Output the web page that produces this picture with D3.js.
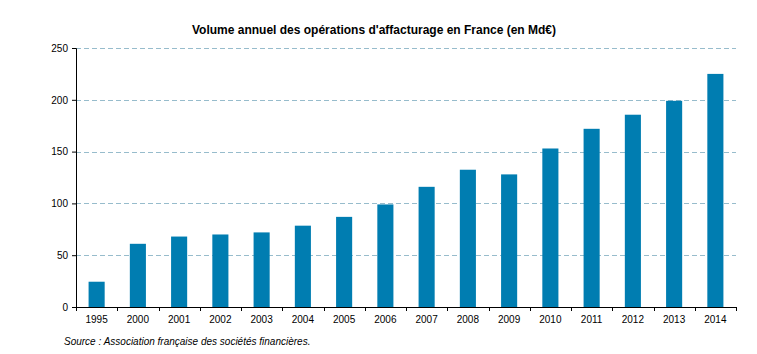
<!DOCTYPE html>
<html lang="fr">
<head>
  <meta charset="UTF-8">
  <title>Volume annuel des opérations d'affacturage en France</title>
  <script src="https://d3js.org/d3.v7.min.js"></script>
  <style>
    body {
      margin: 0;
      background: #fff;
      font-family: "Liberation Sans", Arial, sans-serif;
    }
    #chart { display: block; }
  </style>
</head>
<body>
  <svg id="chart" width="757" height="354"></svg>

  <script>
    const years = ["1995", "2000", "2001", "2002", "2003", "2004", "2005", "2006",
                   "2007", "2008", "2009", "2010", "2011", "2012", "2013", "2014"];
    const volumes = [24.4, 61, 68, 70, 72, 78.5, 87, 99,
                     116, 132.5, 128, 153, 172, 185.6, 199, 225];
    const yTicks = [0, 50, 100, 150, 200, 250];

    const margin = { top: 48, right: 21, bottom: 47, left: 76 };
    const width = 757 - margin.left - margin.right;
    const height = 354 - margin.top - margin.bottom;

    const svg = d3.select("#chart");
    const g = svg.append("g")
      .attr("transform", `translate(${margin.left},${margin.top})`);

    const x = d3.scaleBand()
      .domain(years)
      .range([0, width])
      .paddingInner(0.61)
      .paddingOuter(0.305);

    const y = d3.scaleLinear()
      .domain([0, 250])
      .range([height, 0]);

    // Gridlines
    g.append("g")
      .selectAll("line")
      .data(yTicks.filter(d => d > 0))
      .enter()
      .append("line")
      .attr("x1", 0)
      .attr("x2", width)
      .attr("y1", d => Math.round(y(d)) + 0.5)
      .attr("y2", d => Math.round(y(d)) + 0.5)
      .attr("stroke", "#97bccc")
      .attr("stroke-width", 1)
      .attr("stroke-dasharray", "5,3");

    // Bars
    g.selectAll(".bar")
      .data(years)
      .enter()
      .append("rect")
      .attr("class", "bar")
      .attr("x", d => x(d))
      .attr("width", x.bandwidth())
      .attr("y", (d, i) => y(volumes[i]))
      .attr("height", (d, i) => height - y(volumes[i]))
      .attr("fill", "#007db1");

    // Y axis
    const yAxis = g.append("g")
      .call(d3.axisLeft(y).tickValues(yTicks).tickSize(4).tickPadding(4));
    yAxis.select(".domain").attr("stroke", "#000");
    yAxis.selectAll("text")
      .attr("font-family", "Liberation Sans, Arial, sans-serif")
      .attr("font-size", "10px")
      .attr("fill", "#000");

    // X axis: ticks sit on band boundaries
    const xAxis = g.append("g")
      .attr("transform", `translate(0,${height})`);
    xAxis.append("line")
      .attr("x1", 0).attr("x2", width)
      .attr("y1", 0.5).attr("y2", 0.5)
      .attr("stroke", "#000");
    const step = x.step();
    xAxis.selectAll(".tk")
      .data(d3.range(years.length + 1))
      .enter()
      .append("line")
      .attr("x1", i => Math.round(i * step) + 0.5)
      .attr("x2", i => Math.round(i * step) + 0.5)
      .attr("y1", 0)
      .attr("y2", 4)
      .attr("stroke", "#000");
    xAxis.selectAll(".lbl")
      .data(years)
      .enter()
      .append("text")
      .attr("x", d => x(d) + x.bandwidth() / 2)
      .attr("y", 16)
      .attr("text-anchor", "middle")
      .attr("font-size", "10px")
      .attr("fill", "#000")
      .text(d => d);

    // Title
    svg.append("text")
      .attr("x", 374)
      .attr("y", 34)
      .attr("text-anchor", "middle")
      .attr("font-size", "12px")
      .attr("font-weight", "bold")
      .attr("fill", "#000")
      .text("Volume annuel des opérations d'affacturage en France (en Md€)");

    // Source
    svg.append("text")
      .attr("x", 64)
      .attr("y", 345)
      .attr("font-size", "10px")
      .attr("font-style", "italic")
      .attr("fill", "#000")
      .text("Source : Association française des sociétés financières.");
  </script>
</body>
</html>
